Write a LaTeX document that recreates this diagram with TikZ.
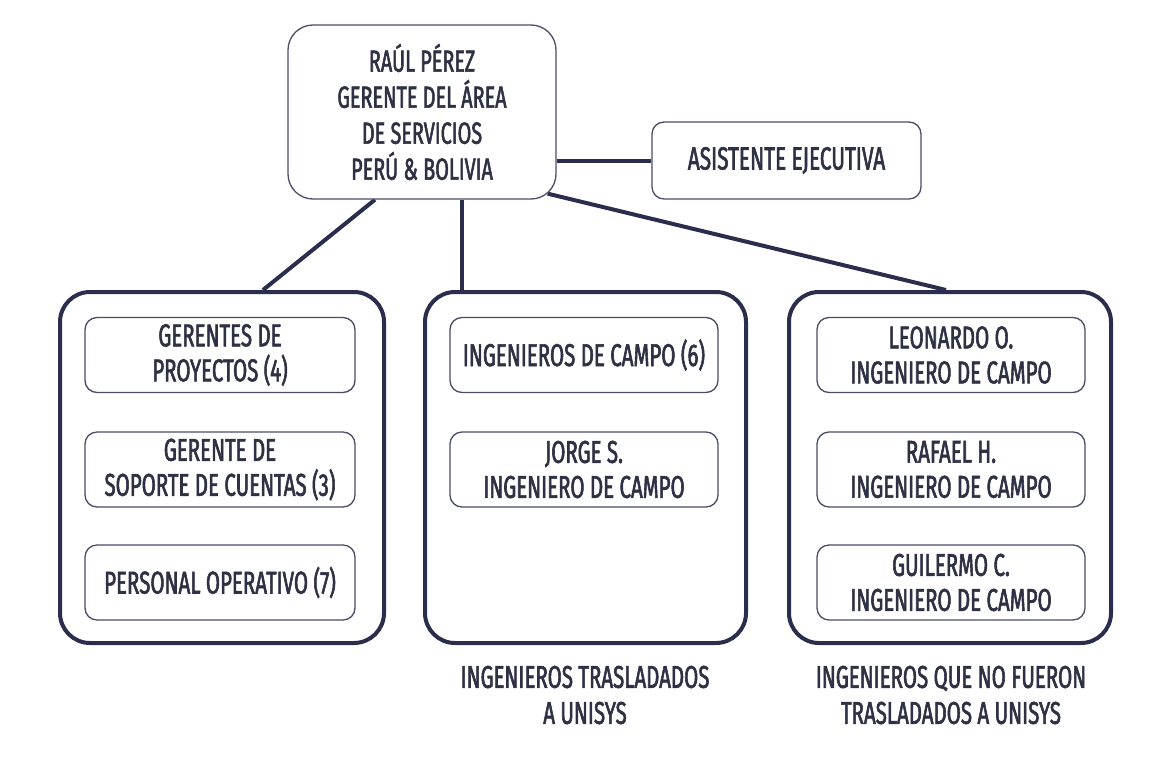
\documentclass[tikz,border=0pt]{standalone}
\usepackage{fontspec}
\setmainfont{Fira Sans}[FakeStretch=0.65, FakeBold=1.8]
\usetikzlibrary{backgrounds}

\definecolor{marino}{HTML}{2B2D4C}
\definecolor{tinta}{HTML}{2E3044}

\newcommand*\cajaancho{270pt}
\newcommand*\cajaalto{75pt}
\newcommand*\grupoalto{351pt}
\tikzset{puesto/.style 2 args={
    draw=marino!85,
    line width=1.3pt,
    rectangle,
    rounded corners=12pt,
    fill=white,
    text=tinta,
    font=\fontsize{31.5}{35}\selectfont,
    inner sep=0pt,
    minimum width=#1,
    minimum height=#2,
    align=center
}}
\tikzset{grupo/.style={
    draw=marino,
    line width=4pt,
    rectangle,
    rounded corners=30pt,
    fill=white,
    minimum width=#1,
    minimum height=\grupoalto
}}
\tikzset{enlace/.style={draw=marino, line width=4pt}}
\tikzset{nota/.style={text=tinta, align=center, font=\fontsize{31.5}{36}\selectfont}}

\begin{document}
\begin{tikzpicture}[x=1pt,y=-1pt]

    \useasboundingbox (0,0) rectangle (1162,771);

    % Top of the chart.
    \node[puesto={268pt}{174pt}, rounded corners=25pt, font=\fontsize{30.5}{36}\selectfont] (jefe) at (422,112)
        {RAÚL PÉREZ\\GERENTE DEL ÁREA\\DE SERVICIOS\\PERÚ \& BOLIVIA};
    \node[puesto={269pt}{77pt}, font=\fontsize{32}{35}\selectfont] (asist) at (786.5,160.5) {ASISTENTE EJECUTIVA};

    % The three groups.
    \node[grupo=324pt] (izq) at (222,467.5) {};
    \node[grupo=321pt] (med) at (585.5,467.5) {};
    \node[grupo=322pt] (der) at (950,467.5) {};

    % Left group: 1=top, 2=middle, 3=bottom
    \node[puesto={\cajaancho}{\cajaalto}] (izq1) at (220,355) {GERENTES DE\\PROYECTOS (4)};
    \node[puesto={\cajaancho}{\cajaalto}] (izq2) at (220,469.5) {GERENTE DE\\SOPORTE DE CUENTAS (3)};
    \node[puesto={\cajaancho}{\cajaalto}] (izq3) at (220,582.5) {PERSONAL OPERATIVO (7)};

    % Middle group.
    \node[puesto={268pt}{\cajaalto}] (med1) at (584,355) {INGENIEROS DE CAMPO (6)};
    \node[puesto={268pt}{\cajaalto}] (med2) at (584,469.5) {JORGE S.\\INGENIERO DE CAMPO};

    % Right group.
    \node[puesto={268pt}{\cajaalto}] (der1) at (951,355) {LEONARDO O.\\INGENIERO DE CAMPO};
    \node[puesto={268pt}{\cajaalto}] (der2) at (951,469.5) {RAFAEL H.\\INGENIERO DE CAMPO};
    \node[puesto={268pt}{\cajaalto}] (der3) at (951,582.5) {GUILERMO C.\\INGENIERO DE CAMPO};

    % Captions under the groups.
    \node[nota] (notamed) at (585,695) {INGENIEROS TRASLADADOS\\A UNISYS};
    \node[nota] (notader) at (951,695) {INGENIEROS QUE NO FUERON\\TRASLADADOS A UNISYS};

    % Connectors go behind the boxes.
    \begin{scope}[on background layer]
        \draw[enlace] (jefe.east |- asist.west) -- (asist.west);
        \draw[enlace] ([xshift=-47pt]jefe.south) -- ([xshift=41pt]izq.north);
        \draw[enlace] ([xshift=40pt]jefe.south) -- ([xshift=40pt]jefe.south |- med.north);
        \draw[enlace] ([xshift=-9pt,yshift=6pt]jefe.south east) -- ([xshift=-4pt]der.north);
    \end{scope}

\end{tikzpicture}
\end{document}
